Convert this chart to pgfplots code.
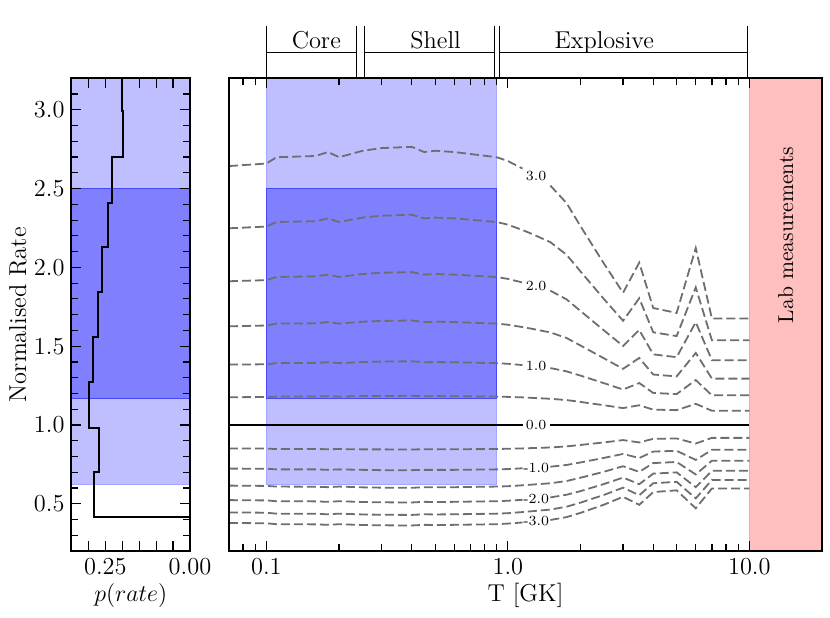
\documentclass[border=0pt]{standalone}
\usepackage{pgfplots}
\pgfplotsset{compat=1.18}
\usepackage{pgfplotstable}
\newcommand{\mainsize}{\fontsize{12.2bp}{14.6bp}\selectfont}
\newcommand{\labsize}{\fontsize{10.8bp}{13bp}\selectfont}
\newcommand{\clsize}{\fontsize{7bp}{8.4bp}\selectfont}
\definecolor{lineg}{RGB}{110,110,110}
\definecolor{lblue}{RGB}{191,191,255}
\definecolor{lbedge}{RGB}{165,165,255}
\definecolor{dblue}{RGB}{128,128,255}
\definecolor{dbedge}{RGB}{70,70,255}
\definecolor{pinkc}{RGB}{255,191,191}
\definecolor{pinkedge}{RGB}{255,160,160}

\pgfplotstableread{
T p3 p25 p2 p15 p1 p05 m05 m1 m15 m2 m25 m3
0.07 2.643 2.248 1.912 1.626 1.383 1.176 0.850 0.723 0.615 0.523 0.445 0.378
0.1 2.659 2.259 1.919 1.631 1.385 1.177 0.850 0.722 0.613 0.521 0.443 0.376
0.11 2.699 2.288 1.939 1.643 1.392 1.180 0.847 0.718 0.609 0.516 0.437 0.370
0.16 2.707 2.293 1.943 1.645 1.394 1.181 0.847 0.718 0.608 0.515 0.436 0.369
0.18 2.732 2.311 1.954 1.653 1.398 1.182 0.846 0.715 0.605 0.512 0.433 0.366
0.2 2.699 2.288 1.939 1.643 1.392 1.180 0.847 0.718 0.609 0.516 0.437 0.370
0.25 2.740 2.316 1.958 1.655 1.399 1.183 0.845 0.715 0.604 0.511 0.432 0.365
0.3 2.757 2.328 1.966 1.660 1.402 1.184 0.845 0.713 0.602 0.509 0.430 0.363
0.4 2.765 2.334 1.970 1.663 1.404 1.185 0.844 0.713 0.601 0.508 0.429 0.362
0.45 2.732 2.311 1.954 1.653 1.398 1.182 0.846 0.715 0.605 0.512 0.433 0.366
0.5 2.740 2.316 1.958 1.655 1.399 1.183 0.845 0.715 0.604 0.511 0.432 0.365
0.6 2.732 2.311 1.954 1.653 1.398 1.182 0.846 0.715 0.605 0.512 0.433 0.366
0.9 2.699 2.288 1.939 1.643 1.392 1.180 0.847 0.718 0.609 0.516 0.437 0.370
1.0 2.675 2.271 1.927 1.636 1.388 1.178 0.849 0.720 0.611 0.519 0.440 0.374
1.15 2.627 2.237 1.904 1.621 1.380 1.175 0.851 0.725 0.617 0.525 0.447 0.381
1.25 nan 2.214 nan 1.611 nan 1.172 0.853 nan 0.621 nan 0.452 nan
1.5 2.519 2.160 1.852 1.587 1.361 1.166 0.857 0.735 0.630 0.540 0.463 0.397
1.75 2.408 2.080 1.797 1.552 1.340 1.158 0.864 0.746 0.644 0.557 0.481 0.415
2.0 2.261 1.974 1.723 1.504 1.313 1.146 0.873 0.762 0.665 0.580 0.507 0.442
2.5 2.024 1.799 1.600 1.423 1.265 1.125 0.889 0.791 0.703 0.625 0.556 0.494
3.0 1.839 1.661 1.501 1.356 1.225 1.107 0.904 0.816 0.738 0.666 0.602 0.544
3.5 2.030 1.804 1.603 1.425 1.266 1.125 0.889 0.790 0.702 0.624 0.554 0.493
4.0 1.742 1.588 1.448 1.320 1.203 1.097 0.912 0.831 0.758 0.691 0.630 0.574
5.0 1.711 1.564 1.430 1.308 1.196 1.094 0.914 0.836 0.765 0.699 0.639 0.585
6.0 2.123 1.873 1.652 1.457 1.285 1.134 0.882 0.778 0.686 0.605 0.534 0.471
7.0 1.675 1.537 1.411 1.294 1.188 1.090 0.918 0.842 0.773 0.709 0.651 0.597
10.0 1.675 1.537 1.411 1.294 1.188 1.090 0.918 0.842 0.773 0.709 0.651 0.597
}\contours

\pgfplotsset{
  common/.style={
    scale only axis, anchor=south west,
    height=236.35bp, ymin=0.2, ymax=3.2,
    major tick length=5bp, minor tick length=3.5bp,
    every tick/.style={black, line width=0.6bp},
    axis line style={line width=1bp},
    tick label style={font=\mainsize},
    label style={font=\mainsize},
    axis on top,
  },
  cline/.style={color=lineg, line width=0.9bp, dash pattern=on 4.5bp off 2bp, forget plot},
}

\begin{document}
\begin{tikzpicture}
\useasboundingbox (0,0) rectangle (415bp,309bp);
% ---------------- left panel: histogram ----------------
\begin{axis}[common,
  at={(35.75bp,33.5bp)}, width=59.25bp,
  x dir=reverse, xmin=0, xmax=0.35,
  xtick={0,0.05,0.1,0.15,0.2,0.25,0.3},
  xticklabels={0.00,,,,,0.25,},
  ytick={0.5,1,1.5,2,2.5,3},
  yticklabels={0.5,1.0,1.5,2.0,2.5,3.0},
  minor ytick={0.3,0.4,0.6,0.7,0.8,0.9,1.1,1.2,1.3,1.4,1.6,1.7,1.8,1.9,2.1,2.2,2.3,2.4,2.6,2.7,2.8,2.9,3.1},
  xlabel={$p(rate)$}, ylabel={Normalised Rate},
  xlabel style={at={(axis description cs:0.5,-0.1058)}, anchor=base},
  ylabel style={at={(axis description cs:-0.4515,0.5)}, anchor=center},
]
\addplot[fill=lblue, draw=lbedge, line width=0.5bp, forget plot] coordinates {(0,0.62) (0.35,0.62) (0.35,3.3) (0,3.3)} --cycle;
\addplot[fill=dblue, draw=dbedge, line width=0.5bp, forget plot] coordinates {(0,1.17) (0.35,1.17) (0.35,2.5) (0,2.5)} --cycle;
\addplot[black, line width=1bp, forget plot] coordinates {
(0,0.413) (0.2835,0.413) (0.2835,0.700) (0.268,0.700) (0.268,0.982) (0.297,0.982)
(0.297,1.273) (0.286,1.273) (0.286,1.558) (0.271,1.558) (0.271,1.843) (0.261,1.843)
(0.261,2.128) (0.241,2.128) (0.241,2.41) (0.231,2.41) (0.231,2.70) (0.197,2.70)
(0.197,2.99) (0.202,2.99) (0.202,3.3)};
\end{axis}
% ---------------- main panel ----------------
\begin{axis}[common,
  at={(114.5bp,33.5bp)}, width=296.5bp,
  xmode=log, xmin=0.07, xmax=20,
  xtick={0.1,1,10}, xticklabels={0.1,1.0,10.0},
  minor xtick={0.08,0.09,0.2,0.3,0.4,0.5,0.6,0.7,0.8,0.9,2,3,4,5,6,7,8,9},
  ytick=\empty,
  xlabel={T [GK]},
  xlabel style={at={(axis description cs:0.5,-0.1058)}, anchor=base},
  clip=false, unbounded coords=jump,
]
\addplot[fill=lblue, draw=none, forget plot] coordinates {(0.1,0.62) (0.9,0.62) (0.9,3.2) (0.1,3.2)} --cycle;
\addplot[lbedge, line width=0.5bp, forget plot] coordinates {(0.1,3.2) (0.1,0.62) (0.9,0.62) (0.9,3.2)};
\addplot[fill=dblue, draw=dbedge, line width=0.5bp, forget plot] coordinates {(0.1,1.17) (0.9,1.17) (0.9,2.5) (0.1,2.5)} --cycle;
\addplot[fill=pinkc, draw=none, forget plot] coordinates {(10,0.2) (20,0.2) (20,3.2) (10,3.2)} --cycle;
\addplot[pinkedge, line width=0.5bp, forget plot] coordinates {(10,0.2) (10,3.2)};
% contour lines
\addplot[cline] table[x=T, y=p3] {\contours};
\addplot[cline] table[x=T, y=p25] {\contours};
\addplot[cline] table[x=T, y=p2] {\contours};
\addplot[cline] table[x=T, y=p15] {\contours};
\addplot[cline] table[x=T, y=p1] {\contours};
\addplot[cline] table[x=T, y=p05] {\contours};
\addplot[cline] table[x=T, y=m05] {\contours};
\addplot[cline] table[x=T, y=m1] {\contours};
\addplot[cline] table[x=T, y=m15] {\contours};
\addplot[cline] table[x=T, y=m2] {\contours};
\addplot[cline] table[x=T, y=m25] {\contours};
\addplot[cline] table[x=T, y=m3] {\contours};
\addplot[black, line width=1.1bp, forget plot] coordinates {(0.07,1) (1.15,1)};
\addplot[black, line width=1.1bp, forget plot] coordinates {(1.5,1) (10,1)};
% contour labels
\node[font=\clsize] at (axis cs:1.31,2.58) {3.0};
\node[font=\clsize] at (axis cs:1.31,1.881) {2.0};
\node[font=\clsize] at (axis cs:1.31,1.372) {1.0};
\node[font=\clsize] at (axis cs:1.31,1.0) {0.0};
\node[font=\clsize] at (axis cs:1.31,0.729) {-1.0};
\node[font=\clsize] at (axis cs:1.31,0.532) {-2.0};
\node[font=\clsize] at (axis cs:1.31,0.388) {-3.0};
% regime brackets
\draw[black, line width=0.5bp]
  (axis cs:0.1,3.2) -- (axis cs:0.1,3.535)
  (axis cs:0.235,3.2) -- (axis cs:0.235,3.535)
  (axis cs:0.1,3.362) -- (axis cs:0.235,3.362)
  (axis cs:0.255,3.2) -- (axis cs:0.255,3.535)
  (axis cs:0.88,3.2) -- (axis cs:0.88,3.535)
  (axis cs:0.255,3.362) -- (axis cs:0.88,3.362)
  (axis cs:0.925,3.2) -- (axis cs:0.925,3.535)
  (axis cs:9.85,3.2) -- (axis cs:9.85,3.535)
  (axis cs:0.925,3.362) -- (axis cs:9.85,3.362);
\node[font=\mainsize, anchor=base] at (axis cs:0.161,3.387) {Core};
\node[font=\mainsize, anchor=base] at (axis cs:0.502,3.387) {Shell};
\node[font=\mainsize, anchor=base] at (axis cs:2.51,3.387) {Explosive};
\node[font=\labsize, rotate=90] at (axis cs:14.14,2.206) {Lab measurements};
\end{axis}
\end{tikzpicture}
\end{document}
